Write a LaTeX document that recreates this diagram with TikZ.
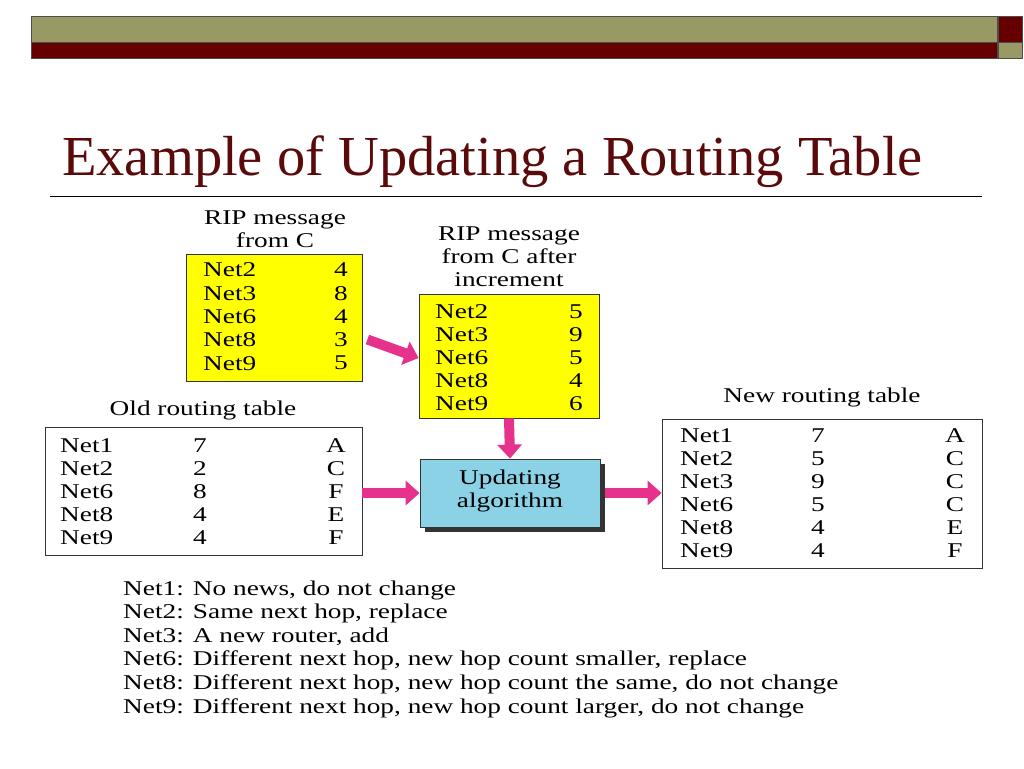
\documentclass[tikz,border=0pt]{standalone}
\usepackage{fontspec}
\setmainfont{Liberation Serif}
\newfontfamily\widefont[FakeStretch=1.3]{Liberation Serif}
\usetikzlibrary{arrows.meta,shadows}
\definecolor{olive}{RGB}{153,153,102}
\definecolor{dred}{RGB}{102,0,0}
\definecolor{ttl}{RGB}{90,10,10}
\definecolor{pinkA}{RGB}{230,50,140}
\definecolor{ybox}{RGB}{255,255,0}
\definecolor{bbox}{RGB}{140,210,230}
\tikzset{
  txt/.style={inner sep=0pt, font=\widefont\fontsize{21}{23}\selectfont, text=black},
  lbl/.style={inner sep=0pt, font=\widefont\fontsize{21}{23}\selectfont, align=center, text=black},
  fat/.style={line width=10pt, draw=pinkA, -{Triangle[width=24pt,length=14pt,fill=pinkA]}},
  boxframe/.style={draw=black!80, line width=0.8pt}
}
\begin{document}
\begin{tikzpicture}[x=1pt,y=-1pt]
\useasboundingbox (0,0) rectangle (1024,768);
% header
\fill[olive,draw=black!70] (31,16) rectangle (997,42);
\fill[dred,draw=black!70] (31,42) rectangle (997,58);
\fill[dred,draw=black!70] (998,16) rectangle (1022,42);
\fill[olive,draw=black!70] (998,42) rectangle (1022,58);
\node[anchor=base west,inner sep=0pt,text=ttl,font=\fontsize{56.5}{60}\selectfont] (title) at (62,175) {Example of Updating a Routing Table};
\draw[black,line width=0.8pt] (50,196) -- (982,196);
% yellow box 1
\node[boxframe,fill=ybox,minimum width=176pt,minimum height=127pt,inner sep=0pt] (y1) at (274,317.5) {};
\node[lbl] (y1l) at (275,229) {RIP message\\from C};
\foreach \n/\v [count=\i from 0] in {Net2/4,Net3/8,Net6/4,Net8/3,Net9/5}{
  \node[txt,anchor=west] (y1n\i) at (203,270+23.3*\i) {\n};
  \node[txt,anchor=east] (y1v\i) at (348,270+23.3*\i) {\v};
}
% yellow box 2
\node[boxframe,fill=ybox,minimum width=180pt,minimum height=124pt,inner sep=0pt] (y2) at (509,356) {};
\node[lbl] (y2l) at (509,257) {RIP message\\from C after\\increment};
\foreach \n/\v [count=\i from 0] in {Net2/5,Net3/9,Net6/5,Net8/4,Net9/6}{
  \node[txt,anchor=west] (y2n\i) at (435,312+23*\i) {\n};
  \node[txt,anchor=east] (y2v\i) at (583,312+23*\i) {\v};
}
% old table
\node[boxframe,fill=white,minimum width=317pt,minimum height=128pt,inner sep=0pt] (old) at (203.5,491) {};
\node[lbl] (oldl) at (203,410) {Old routing table};
\foreach \n/\v/\h [count=\i from 0] in {Net1/7/A,Net2/2/C,Net6/8/F,Net8/4/E,Net9/4/F}{
  \node[txt,anchor=west] (on\i) at (60,446+23*\i) {\n};
  \node[txt,anchor=center] (ov\i) at (200,446+23*\i) {\v};
  \node[txt,anchor=center] (oh\i) at (336,446+23*\i) {\h};
}
% updating
\node[boxframe,fill=bbox,minimum width=180pt,minimum height=68pt,inner sep=0pt,
  drop shadow={shadow xshift=5pt,shadow yshift=-5pt,opacity=1,fill=black!80}] (upd) at (510,493) {};
\node[lbl] (updl) at (510,491) {Updating\\algorithm};
% new table
\node[boxframe,fill=white,minimum width=320pt,minimum height=149pt,inner sep=0pt] (new) at (822,493.5) {};
\node[lbl] (newl) at (822,397) {New routing table};
\foreach \n/\v/\h [count=\i from 0] in {Net1/7/A,Net2/5/C,Net3/9/C,Net6/5/C,Net8/4/E,Net9/4/F}{
  \node[txt,anchor=west] (nn\i) at (680,436+23*\i) {\n};
  \node[txt,anchor=center] (nv\i) at (818,436+23*\i) {\v};
  \node[txt,anchor=center] (nh\i) at (955,436+23*\i) {\h};
}
% arrows
\coordinate (a1s) at ([xshift=5pt,yshift=-22pt]y1.east);
\coordinate (a1e) at ([yshift=-2pt]y2.west);
\draw[fat] (a1s) -- (a1e);
\draw[fat] (y2.south) -- (upd.north);
\draw[fat] (old.east |- upd.west) -- (upd.west);
\draw[fat] ([xshift=5pt]upd.east) -- (new.west |- upd.east);
% notes
\foreach \t [count=\i from 0] in {{Net1: No news, do not change},{Net2: Same next hop, replace},{Net3: A new router, add},{Net6: Different next hop, new hop count smaller, replace},{Net8: Different next hop, new hop count the same, do not change},{Net9: Different next hop, new hop count larger, do not change}}{
  \node[txt,anchor=west] (note\i) at (123,590+23.6*\i) {\t};
}
\end{tikzpicture}
\end{document}
